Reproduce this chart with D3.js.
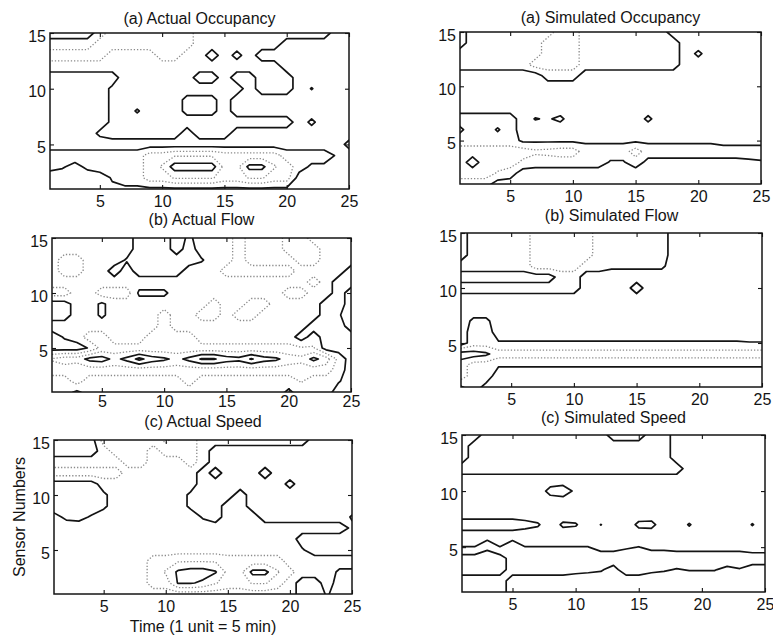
<!DOCTYPE html>
<html>
<head>
<meta charset="utf-8">
<script src="https://cdnjs.cloudflare.com/ajax/libs/d3/7.8.5/d3.min.js"></script>
<style>
  body { margin: 0; background: #fff; }
  svg { display: block; font-family: "Liberation Sans", Arial, sans-serif; }
</style>
</head>
<body>
<svg id="chart" width="773" height="639"></svg>
<script>
// grid: time 1..25 (columns), sensor 1..15 (rows, listed from sensor 15 down to 1)
const NX = 25, NY = 15;
const xTicks = [5, 10, 15, 20, 25];
const yTicks = [5, 10, 15];
const titles = ['(a) Actual Occupancy', '(a) Simulated Occupancy', '(b) Actual Flow',
                '(b) Simulated Flow', '(c) Actual Speed', '(c) Simulated Speed'];
const xLabel = 'Time (1 unit = 5 min)';
const yLabel = 'Sensor Numbers';

const occActual = [
  [0,0,0,0,1,2,2,2,2,2,2,2,1,1,1,1,1,1,1,1,1,1,1,0,0],
  [1,1,1,1,2,2,2,2,2,2,2,2,1,1,1,1,1,1,1,0,0,0,0,0,0],
  [2,2,2,2,2,1,1,1,1,2,2,1,1,0,1,0.2,1,0,0,0,0,0,0,0,0],
  [1,1,1,1,1,1,1,1,1,1,1,1,1,1,1,1,1,1,1,0,0,0,0,0,0],
  [0,0,0,0,0,0,1,1,1,1,1,1,0,0,1,0,0,1,1,1,0,0,0,0,0],
  [0,0,0,0,0,0.7,1,1,1,1,1,1,1,1,1,1,0,1,1,1,0,0.55,0,0,0],
  [0,0,0,0,0,0.7,1,1,1,1,1,0.2,0.2,0.2,1,0,0,0,0,0,0,0,0,0,0],
  [0,0,0,0,0,0.7,1,0.4,1,1,1,0.2,0.2,0.2,1,0,0,0,0,0,0,0,0,0,0],
  [0,0,0,0,0,0.7,1,1,1,1,1,1,1,1,1,1,1,1,1,1,0,0.7,0,0,0],
  [0,0,0,0,0.7,1,1,1,1,1,1,0,1,1,1,0,0,0,0,0,0,0,0,0,0],
  [0,0,0,0,0,0,0,0,0,0,0,0,0,0,0,0,0,0,0,0,0,0,0,0,0.8],
  [1,1,1,1,1,1,1,1,2,2,2.4,2.4,2.4,2.4,2,2,2,2,2,1,1,1,1,0.4,0],
  [0.8,0.6,0.2,0.7,1,1,1,1,2,2.6,4,4,4,4,2.2,2.2,3.8,3.8,2.6,2,1,0.3,0.3,0.3,0.3],
  [0,0,0,0,0,0.6,1,1,2,2,2.6,2.6,2.6,2.6,2,2,2.6,2.6,2,2,0,0,0,0,0],
  [0.3,0.3,0.3,0.3,0.3,0.3,0.3,0.3,0.3,0.3,0.3,0.3,0.3,0.3,0.3,0.3,0.3,0.3,0.3,0.3,0.3,0.3,0.3,0.3,0.3]
];
const occActualSolid = [0.5, 3.5];
const occActualDotted = [1.5, 2.5];

const occSimulated = [
  [1,0,0,0,0,0,0,0,-1,-1,0,0,0,0,0,0,0,1,1,1,1,1,1,1,1],
  [1,0,0,0,0,0,0,-1,-1,-1,0,0,0,0,0,0,0,0,1,1,1,1,1,1,1],
  [0,0,0,0,0,0,0,-1,-1,-1,0,0,0,0,0,0,0,0,1,0.3,1,1,1,1,1],
  [0,0,0,0,0,0,-1,-1,-1,-1,0,0,0,0,0,0,0,0,1,1,1,1,1,1,1],
  [1,1,1,1,1,1,1,0,0,0,1,1,1,1,1,1,1,1,1,1,1,1,1,1,1],
  [1,1,1,1,1,1,1,1,1,1,1,1,1,1,1,1,1,1,1,1,1,1,1,1,1],
  [1,1,1,1,1,1,1,1,1,1,1,1,1,1,1,1,1,1,1,1,1,1,1,1,1],
  [1,1,1,1,1,1,1,1,1,1,1,1,1,1,1,1,1,1,1,1,1,1,1,1,1],
  [2,2,2,2,2,1,1.55,1.4,1.7,1,1,1,1,1,1,1.7,1,1,1,1,1,1,1,1,1],
  [1.3,2,2,1.4,2,1,1,1,1,1,1,1,1,1,1,1,1,1,1,1,1,1,1,1,1],
  [2,2,2,2,2,1.3,1.3,1.3,1.3,1.3,1.3,1.3,1.3,1.3,1.3,1.3,1.3,1.3,1.3,1.3,1.3,1.1,1.1,1.1,1.1],
  [3,3,3,3,3,3,2.7,2.8,3,3,2,2,2,2,3,2,2,2,2,2,2,2,2,2,2],
  [3,4,3,3,3,2.3,2,2,2,2,2,2,1.4,1.4,2,1.2,1.2,1.2,1.2,1.2,1.2,1.2,1.2,1.3,1.4],
  [3,3,3,2.4,2,1,1,1,1,1,1,1,1,1,1,1,1,1,1,1,1,1,1,1,1],
  [2,2,2,1,1,1,1,1,1,1,1,1,1,1,1,1,1,1,1,1,1,1,1,1,1]
];
const occSimulatedSolid = [0.5, 1.5, 3.5];
const occSimulatedDotted = [-0.5, 2.5];

const flowActual = [
  [1,1,1,1,1,1,1,0,0,0,1,0.3,1,1,1,2,1,1,1,2,2,1,1,1,1],
  [1,1,1,1,1,1,1,0,0,0,1,0,1,1,1,2,1,1,1,2,2,2,1,1,1],
  [1,2,2,1,1,1,0.4,0,0,0,0,0,0.4,1,1,2,1,1,1,1,2,2,1,1,1],
  [1,2,2,1,1,0,1,0,0,0,0,1,1,1,2,2,2,2,2,2,1,1,1,1,0],
  [1,1,1,1,1,1,1,1,1,1,1,1,1,1,1,1,1,1,1,1,1,2,1,0,0],
  [2,2,1,1,2,2,2,0.3,0.3,0.3,1,1,1,1,1,1,1,1,1,2,2,1,1,0,1],
  [0,0,1,1,0.3,1,1,1,1,1,1,1,1,2,1,1,2,2,1,1,1,1,0,0,1],
  [0,0,1,1,0.3,1,1,1,1,2,1,1,2,2,1,2,2,1,1,1,1,1,0,0.4,1],
  [1,1,1,1,1,1,1,1,1,2,1,1,1,1,1,1,1,1,1,1,1,0,0,0,1],
  [0,0.6,1,2,2,1,1,1,2,2,2,2,1,1,1,1,1,1,1,1,0,1,0,0,0],
  [0,0,0,0.6,1.8,1.8,1.8,1.8,1.8,1.8,1.8,1.8,1.8,1.8,1.8,1.8,1.8,1.8,1.8,1.8,1.6,1.6,0,0,0],
  [2.6,3,3,3.8,4,3.2,3.8,4.8,4,3.7,3.2,3.8,4.6,4.6,4,3.8,4.6,3.9,3.7,3,2.8,3.8,3,1.2,0],
  [2,2,1.6,2,2,2,2,2,2,2,2,2,2,2,2,2,2,2,2,2,2,2,2,1,0],
  [1,1,2,1,1,1,1,1,1,1,1,2,1,1,1,1,1,1,1,1,1.6,1,1,0.6,0],
  [1,1,0.3,1,1,1,1,1,1,1,1,1,1,1,1,1,1,1,1,0.3,1,1,1,0,0]
];
const flowActualSolid = [0.5, 3.5, 4.5];
const flowActualDotted = [1.5, 2.5];

const flowSimulated = [
  [1,0,0,0,0,0,-1,-1,-1,-1,-1,0,0,0,0,0,0,1,1,1,1,1,1,1,1],
  [1,0,0,0,0,0,-1,-1,-1,-1,-1,0,0,0,0,0,0,1,1,1,1,1,1,1,1],
  [1,0,0,0,0,0,-1,-1,-1,-1,-1,0,0,0,0,0,0,1,1,1,1,1,1,1,1],
  [0,0,0,0,0,0,-1,-1,-1,-1,0,0,0.3,0.3,0.3,0.3,0.3,1,1,1,1,1,1,1,1],
  [1,1,1,1,1,1,1,1,0,0,1,1,1,1,1,1,1,1,1,1,1,1,1,1,1],
  [0,0,0,0,0,0,0,0,0,0,1,1,1,1,0,1,1,1,1,1,1,1,1,1,1],
  [1,1,1,1,1,1,1,1,1,1,1,1,1,1,1,1,1,1,1,1,1,1,1,1,1],
  [1,1,1,1,1,1,1,1,1,1,1,1,1,1,1,1,1,1,1,1,1,1,1,1,1],
  [1,1.7,1.7,1,1,1,1,1,1,1,1,1,1,1,1,1,1,1,1,1,1,1,1,1,1],
  [1,2,2,1,1,1,1,1,1,1,1,1,1,1,1,1,1,1,1,1,1,1,1,1,1],
  [1,2,2,1.6,1.6,1.6,1.6,1.6,1.6,1.6,1.6,1.6,1.6,1.6,1.6,1.6,1.6,1.6,1.6,1.6,1.6,1.6,1.6,1.55,1.55],
  [4,4,3.7,3,3,3,3,3,3,3,3,3,3,3,3,3,3,3,3,3,3,3,3,3,3],
  [3,2,2,1.6,1.6,1.6,1.6,1.6,1.6,1.6,1.6,1.6,1.6,1.6,1.6,1.6,1.6,1.6,1.6,1.6,1.6,1.6,1.6,1.6,1.6],
  [3,2,2,1,1,1,1,1,1,1,1,1,1,1,1,1,1,1,1,1,1,1,1,1,1],
  [1.4,2,1.2,1,1,1,1,1,1,1,1,1,1,1,1,1,1,1,1,1,1,1,1,1,1]
];
const flowSimulatedSolid = [0.5, 1.5, 3.5];
const flowSimulatedDotted = [-0.5, 2.5];

const speedActual = [
  [0,0,0,0,2,2,2,2,2,2.7,2,2,1,1,1,1,1,1,1,1,1,0,0,0,0],
  [0,0,0,0,1,2,2,2,1,2,2,2,1,0,0,0,0,0,0,0,0,0,0,0,0],
  [1,1,1,1,1,1,2,2,1,1,1,2,1,0,0,0,0,0,0,0,0,0,0,0,0],
  [2,2,2,2,2,2,1,1,1,1,1,1,0,1,0,0,0,1,0,0,0,0,0,0,0],
  [0,0,0,0,1,1,1,1,1,1,1,1,0,0,0,0,0,0,0,0.8,0,0,0,0,0],
  [0,0,0,0,0.3,1,1,1,1,1,1,0.3,0,0,0,1,0,0,0,0,0,0,0,0,0],
  [0,0,0,0,0.3,1,1,1,1,1,1,0.3,0,0,1,1,0,0,0,0,0,0,0,0,0],
  [0.8,0.3,0.2,0.6,1,1,1,1,1,1,1,1,0.4,0,1,1,1,0,0,0,0,0,0,0,0.6],
  [1,1,1,1,1,1,1,1,1,1,1,1,1,1,1,1,1,1,1,1,1,1,1,1,0.3],
  [1,1,1,1,1,1,1,1,1,1,1,1,1,1,1,1,1,1,1,1,0,0,0,0,0],
  [1,1,1,1,1,1,1,1,1,1,1,1,1,1,1,1,1,1,1,1,0.6,0,0,0,0],
  [1,1,1,1,1,1,1,1,2,2,2.4,2.4,2.4,2.4,2,2,2,2,2,1,1,1,1,1,1],
  [1,1,1,1,1,1,1,1,2,2.6,3.7,4,4,3.6,2.2,2.2,3.8,3.8,2.6,1.8,1,1,1,0.3,0.3],
  [1,1,1,1,1,1,1,1,2,2,3.6,3.6,3.3,2.6,2,2,2.6,2.6,2,1,0,0,1,0,0],
  [1,1,1,1,1,1,1,1,1,1,1,1,1,1,1,1,1,1,1,1,0,0,0.6,0,0]
];
const speedActualSolid = [0.5, 3.5];
const speedActualDotted = [1.5, 2.5];

const speedSimulated = [
  [1,1,0,0,0,0,0,0,0,0,0,0,1,1,1,0,0,1,1,1,1,1,1,1,1],
  [1,0,0,0,0,0,0,0,0,0,0,0,0,0,0,0,0,1,1,1,1,1,1,1,1],
  [1,0,0,0,0,0,0,0,0,0,0,0,0,0,0,0,0,1,1,1,1,1,1,1,1],
  [0,0,0,0,0,0,0,0,0,0,0,0,0,0,0,0,0,0,1,1,1,1,1,1,1],
  [1,1,1,1,1,1,1,1,1,1,1,1,1,1,1,1,1,1,1,1,1,1,1,1,1],
  [1,1,1,1,1,1,1,0.2,0,0.7,1,1,1,1,1,1,1,1,1,1,1,1,1,1,1],
  [1,1,1,1,1,1,1,1,1,1,1,1,1,1,1,1,1,1,1,1,1,1,1,1,1],
  [1,1,1,1,1,1,1,1,1,1,1,1,1,1,1,1,1,1,1,1,1,1,1,1,1],
  [2,2,2,2,2,1.8,1.6,1,1.65,1.58,1,1.52,1,1,1.7,1.75,1,1,1.57,1,1,1,1,1.55,1],
  [1,1,1,1,1,1,1,1,1,1,1,1,1,1,1,1,1,1,1,1,1,1,1,1,1],
  [1.52,1.52,2.3,1.52,2.2,1.52,1.52,1.52,1.52,1.52,1.52,1.2,1.2,1.4,1.52,1.3,1.3,1.2,1.2,1.2,1.2,1.2,1.2,1,1],
  [3,3,3,3,2,2,2,2,2,2,2,2,2,2,2,2,2,2,2,2,2,2,2,2,2],
  [3,3,3,3,2,2,2,2,2,1.8,1.7,1.6,1.2,2,2,1.7,1.6,1.45,1.55,1.55,1.55,1.3,1.45,1.1,1.1],
  [2,2,2,2,1,1,1,1,1,1,1,1,1,1,1,1,1,1,1,1,1,1,1,1,1],
  [2,2,2,2,1,1,1,1,1,1,1,1,1,1,1,1,1,1,1,1,1,1,1,1,1]
];
const speedSimulatedSolid = [0.5, 1.5, 2.5];
const speedSimulatedDotted = [];

// layout: [left, right, top, bottom] of each plot box, title baselines, tick label gaps
const boxes = [[50, 349, 33, 189], [460, 761, 32, 184],
               [52, 351, 238, 392], [461, 762, 233, 387],
               [54, 352, 440, 594], [462, 765, 435, 592]];
const titleY = [24, 23, 225, 221, 427, 423];
const tickPad = [7, 7, 4, 7, 7, 7];

const panels = [
  {grid: occActual, solid: occActualSolid, dotted: occActualDotted},
  {grid: occSimulated, solid: occSimulatedSolid, dotted: occSimulatedDotted},
  {grid: flowActual, solid: flowActualSolid, dotted: flowActualDotted},
  {grid: flowSimulated, solid: flowSimulatedSolid, dotted: flowSimulatedDotted},
  {grid: speedActual, solid: speedActualSolid, dotted: speedActualDotted},
  {grid: speedSimulated, solid: speedSimulatedSolid, dotted: speedSimulatedDotted}
];

const ink = '#141414';
const svg = d3.select('#chart');

function styleAxis(sel) {
  sel.select('.domain').remove();
  sel.attr('font-size', 16)
     .attr('font-family', '"Liberation Sans", Arial, sans-serif')
     .attr('color', ink);
  sel.selectAll('line').attr('stroke-width', 1.1);
}

function drawPanel(p, i) {
  const [left, right, top, bottom] = boxes[i];
  const x = d3.scaleLinear().domain([1, NX]).range([left, right]);
  const y = d3.scaleLinear().domain([1, NY]).range([bottom, top]);

  p.grid.forEach((row, r) => {
    if (row.length !== NX) throw new Error(`panel ${i} row ${r} has ${row.length} values`);
  });

  const clipId = 'clip' + i;
  svg.append('clipPath').attr('id', clipId)
    .append('rect')
    .attr('x', left).attr('y', top)
    .attr('width', right - left).attr('height', bottom - top);

  // rows are listed top (sensor 15) first, d3.contours wants row 0 = sensor 1
  const values = p.grid.slice().reverse().flat();
  const levels = p.solid.concat(p.dotted).sort(d3.ascending);
  const contours = d3.contours().size([NX, NY]).thresholds(levels)(values);

  // sample i sits at contour coordinate i + 0.5
  const path = d3.geoPath(d3.geoTransform({
    point: function(px, py) { this.stream.point(x(px + 0.5), y(py + 0.5)); }
  }));

  const g = svg.append('g');
  g.append('g')
    .attr('clip-path', `url(#${clipId})`)
    .selectAll('path')
    .data(contours)
    .join('path')
    .attr('d', path)
    .attr('fill', 'none')
    .attr('stroke-linejoin', 'round')
    .attr('stroke', d => p.solid.includes(d.value) ? ink : '#8a8a8a')
    .attr('stroke-width', d => p.solid.includes(d.value) ? 1.7 : 1.3)
    .attr('stroke-dasharray', d => p.solid.includes(d.value) ? null : '1.3 1.9');

  g.append('g').attr('transform', `translate(0,${bottom})`)
    .call(d3.axisBottom(x).tickValues(xTicks).tickSize(-4).tickPadding(tickPad[i]))
    .call(styleAxis);
  g.append('g').attr('transform', `translate(0,${top})`)
    .call(d3.axisTop(x).tickValues(xTicks).tickSize(-4).tickFormat(''))
    .call(styleAxis);
  g.append('g').attr('transform', `translate(${left},0)`)
    .call(d3.axisLeft(y).tickValues(yTicks).tickSize(-4).tickPadding(4))
    .call(styleAxis)
    .selectAll('text').attr('dy', '0.5em');
  g.append('g').attr('transform', `translate(${right},0)`)
    .call(d3.axisRight(y).tickValues(yTicks).tickSize(-4).tickFormat(''))
    .call(styleAxis);

  g.append('rect')
    .attr('x', left).attr('y', top)
    .attr('width', right - left).attr('height', bottom - top)
    .attr('fill', 'none')
    .attr('stroke', ink)
    .attr('stroke-width', 1.5);

  g.append('text')
    .attr('x', (left + right) / 2)
    .attr('y', titleY[i])
    .attr('text-anchor', 'middle')
    .attr('font-size', 16)
    .attr('fill', ink)
    .text(titles[i]);
}

panels.forEach(drawPanel);

// axis labels on the bottom-left panel
const [l5, r5, t5, b5] = boxes[4];
svg.append('text')
  .attr('x', (l5 + r5) / 2)
  .attr('y', 632)
  .attr('text-anchor', 'middle')
  .attr('font-size', 16)
  .attr('fill', ink)
  .text(xLabel);
svg.append('text')
  .attr('transform', `translate(25,${(t5 + b5) / 2}) rotate(-90)`)
  .attr('text-anchor', 'middle')
  .attr('font-size', 16)
  .attr('fill', ink)
  .text(yLabel);
</script>
</body>
</html>
